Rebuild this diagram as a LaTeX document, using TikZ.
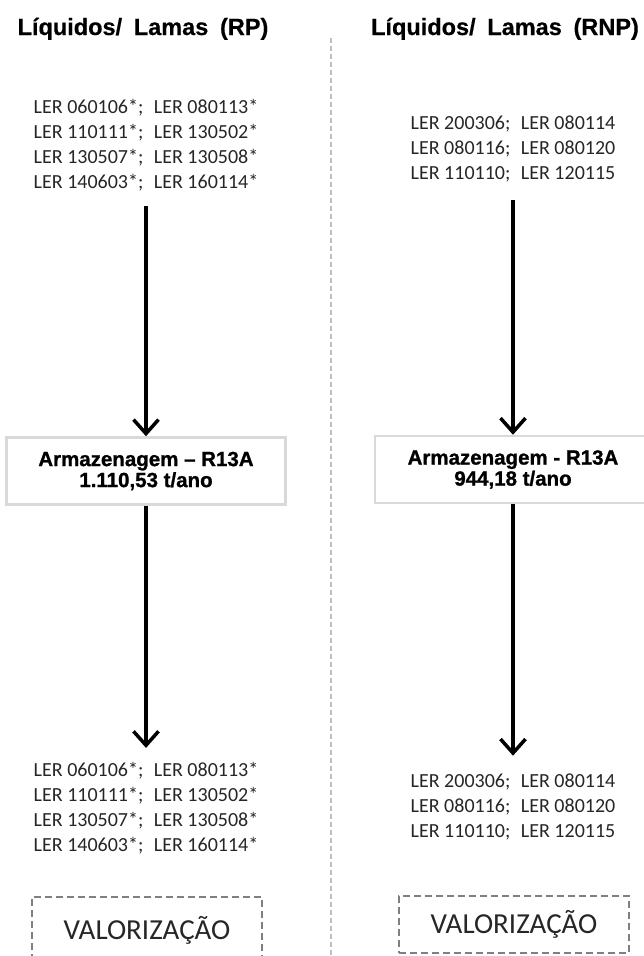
\documentclass[tikz,border=0pt]{standalone}
\usepackage{fontspec}
\setmainfont{Carlito}
\newfontfamily\arialfont[BoldFeatures={FakeBold=0.5}]{Liberation Sans}
\newfontfamily\heavyfont[BoldFeatures={FakeBold=1.1}]{Liberation Sans}
\usepackage{tikz}
\usetikzlibrary{arrows.meta, positioning, calc}
\definecolor{boxline}{HTML}{D9D9D9}
\definecolor{dashline}{HTML}{808080}
\definecolor{divline}{HTML}{BFBFBF}
\definecolor{lertext}{HTML}{262626}

\begin{document}
\begin{tikzpicture}[x=1pt, y=-1pt,
    heading/.style={anchor=base, inner sep=0pt, font=\arialfont\bfseries\fontsize{23.5}{27}\selectfont},
    lerlist/.style={inner sep=0pt, align=center, text=lertext, font=\fontsize{20}{25}\selectfont},
    storage/.style={rectangle, draw=boxline, line width=2.5pt, fill=white, minimum width=#1, minimum height=67pt, align=center, inner sep=0pt, font=\heavyfont\bfseries\fontsize{20.5}{21}\selectfont},
    outlet/.style={rectangle, draw=dashline, dashed, dash pattern=on 7pt off 4pt, line width=2pt, minimum width=230pt, inner sep=0pt, text=lertext, font=\fontsize{29}{32}\selectfont},
    flow/.style={-{Straight Barb[length=14pt, width=25pt]}, line width=3.5pt}
]
\useasboundingbox (0,0) rectangle (644,956);
% divider
\coordinate (divtop) at (331,38);
\coordinate (divbot) at (331,956);
\draw[divline, line width=1.5pt, dash pattern=on 5pt off 3pt] (divtop) -- (divbot);
% left column (RP)
\node[heading] (titleRP) at (143,35) {Líquidos/\hspace{0.5em}Lamas\hspace{0.5em}(RP)};
\node[lerlist] (lerRPin) at (146,145) {LER 060106*;\hspace{0.3em} LER 080113*\\LER 110111*;\hspace{0.3em} LER 130502*\\LER 130507*;\hspace{0.3em} LER 130508*\\LER 140603*;\hspace{0.3em} LER 160114*};
\node[storage=279pt] (boxRP) at (146,471) {Armazenagem – R13A\\1.110,53 t/ano};
\node[lerlist] (lerRPout) at (146,808) {LER 060106*;\hspace{0.3em} LER 080113*\\LER 110111*;\hspace{0.3em} LER 130502*\\LER 130507*;\hspace{0.3em} LER 130508*\\LER 140603*;\hspace{0.3em} LER 160114*};
\node[outlet, minimum height=66pt] (valRP) at (147,930) {VALORIZAÇÃO};
\draw[flow, shorten <=15pt] (lerRPin.south) -- (boxRP.north);
\draw[flow, shorten >=14pt] (boxRP.south) -- (lerRPout.north);
% right column (RNP)
\node[heading] (titleRNP) at (505,35) {Líquidos/\hspace{0.5em}Lamas\hspace{0.5em}(RNP)};
\node[lerlist] (lerRNPin) at (513,149) {LER 200306;\hspace{0.3em} LER 080114\\LER 080116;\hspace{0.3em} LER 080120\\LER 110110;\hspace{0.3em} LER 120115};
\node[storage=290pt] (boxRNP) at (520,469.5) {\hspace*{-14pt}Armazenagem - R13A\\\hspace*{-14pt}944,18 t/ano};
\node[lerlist] (lerRNPout) at (513,807) {LER 200306;\hspace{0.3em} LER 080114\\LER 080116;\hspace{0.3em} LER 080120\\LER 110110;\hspace{0.3em} LER 120115};
\node[outlet, minimum height=57pt] (valRNP) at (514,924) {\raisebox{-3pt}{VALORIZAÇÃO}};
\draw[flow, shorten <=18pt] (lerRNPin.south) -- (lerRNPin.south |- boxRNP.north);
\draw[flow, shorten >=18pt] (lerRNPin.south |- boxRNP.south) -- (lerRNPout.north);
\end{tikzpicture}
\end{document}
